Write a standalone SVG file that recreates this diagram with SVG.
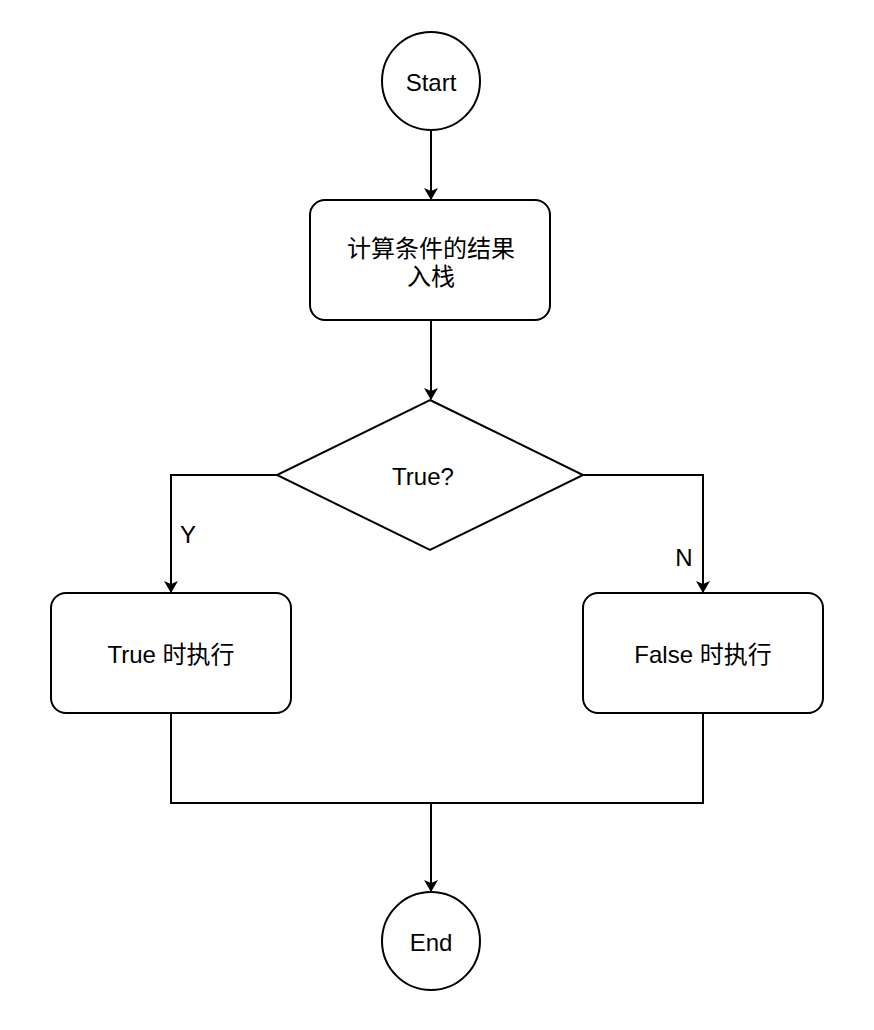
<svg xmlns="http://www.w3.org/2000/svg" width="874" height="1030" viewBox="0 0 874 1030">
<style>
.shape{fill:#fff;stroke:#000;stroke-width:2}
.edge{fill:none;stroke:#000;stroke-width:2}
text{font-family:"Liberation Sans","Noto Sans CJK SC",Arial,sans-serif;font-size:24px;fill:#000;text-anchor:middle;dominant-baseline:central}
</style>
<defs>
<marker id="arrow" viewBox="0 0 12 14" refX="11" refY="7" markerWidth="12" markerHeight="14" markerUnits="userSpaceOnUse" orient="auto">
<path d="M0,0 L12,7 L0,14 L3,7 Z" fill="#000"/>
</marker>
</defs>
<rect width="874" height="1030" fill="#fff"/>
<g id="connectors">
<path class="edge" d="M431,130 L431,199" marker-end="url(#arrow)"/>
<path class="edge" d="M431,320 L431,399" marker-end="url(#arrow)"/>
<path class="edge" d="M277,475 L171,475 L171,592" marker-end="url(#arrow)"/>
<path class="edge" d="M583,475 L703,475 L703,592" marker-end="url(#arrow)"/>
<path class="edge" d="M171,713 L171,803 L703,803 L703,713"/>
<path class="edge" d="M431,803 L431,891" marker-end="url(#arrow)"/>
<text x="188" y="534">Y</text>
<text x="684" y="557">N</text>
</g>
<g id="start">
<circle class="shape" cx="431" cy="81" r="49"/>
<text x="431" y="82">Start</text>
</g>
<g id="compute">
<rect class="shape" x="310" y="200" width="240" height="120" rx="15"/>
<text x="431" y="248">计算条件的结果</text>
<text x="431" y="276">入栈</text>
</g>
<g id="decision">
<polygon class="shape" points="430,400 583,475 430,550 277,475"/>
<text x="423" y="476">True?</text>
</g>
<g id="true-branch">
<rect class="shape" x="51" y="593" width="240" height="120" rx="15"/>
<text x="171" y="654">True 时执行</text>
</g>
<g id="false-branch">
<rect class="shape" x="583" y="593" width="240" height="120" rx="15"/>
<text x="703" y="654">False 时执行</text>
</g>
<g id="end">
<circle class="shape" cx="431" cy="941" r="49"/>
<text x="431" y="942">End</text>
</g>
</svg>
